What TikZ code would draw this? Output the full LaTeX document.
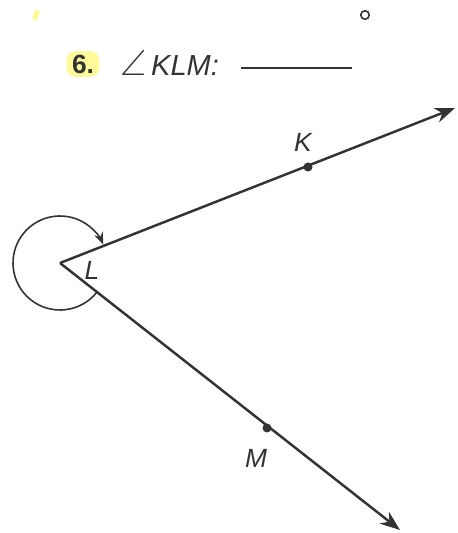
\documentclass[tikz,border=0pt]{standalone}
\usepackage{amsmath,amssymb}
\usepackage{fontspec}
\setsansfont{Liberation Sans}
\usepackage{tikz}
\usetikzlibrary{positioning,arrows.meta}
\usepackage{xcolor}
\definecolor{inkgray}{HTML}{333333}

\begin{document}
\begin{tikzpicture}[>={Stealth[length=4mm,width=3mm]},
  ray/.style={draw=inkgray,line width=1.4pt},
  pt/.style={circle,fill=inkgray,inner sep=0pt,minimum size=1.8mm},
  lbl/.style={font=\sffamily\itshape\fontsize{15}{17}\selectfont,text=inkgray}]
\useasboundingbox (0,0) rectangle (9.16,10.66);
\fill[yellow!45,rotate around={70:(0.72,10.36)}] (0.72,10.36) ellipse (0.12 and 0.05);
\node[fill=yellow!40,rounded corners=5pt,inner xsep=3pt,inner ysep=2pt,font=\sffamily\bfseries\fontsize{15}{17}\selectfont,text=inkgray] (num) at (1.66,9.38) {6.};
\node[font=\sffamily\itshape\fontsize{16.5}{18}\selectfont,text=inkgray,anchor=west] (title) at (2.28,9.40) {\scalebox{1.25}{$\angle$}\,KLM:};
\draw[inkgray,line width=0.9pt] (4.82,9.30) -- (7.04,9.30);
\node[draw=inkgray,circle,line width=0.9pt,inner sep=0pt,minimum size=1.7mm] (deg) at (7.30,10.36) {};
\coordinate (L) at (1.20,5.40);
\coordinate (Kend) at (9.10,8.50);
\coordinate (Mend) at (8.00,0.06);
\draw[ray,->] (L) -- (Kend);
\draw[ray,->] (L) -- (Mend);
\node[pt] (K) at (6.16,7.32) {};
\node[pt] (M) at (5.34,2.10) {};
\node[lbl] (Klbl) at (6.06,7.82) {K};
\node[lbl] (Llbl) at (1.84,5.26) {L};
\node[lbl] (Mlbl) at (5.12,1.50) {M};
% reflex angle mark
\draw[inkgray,line width=0.9pt,-{Stealth[length=2.4mm,width=1.8mm]}] ([shift={(-38:0.94)}]L) arc[start angle=-38,end angle=-337,radius=0.94];
\end{tikzpicture}
\end{document}
